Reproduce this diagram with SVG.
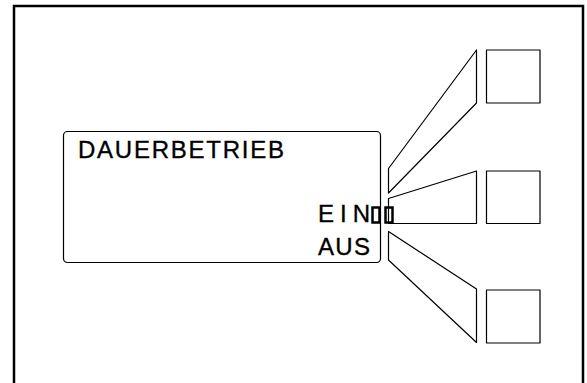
<svg xmlns="http://www.w3.org/2000/svg" width="587" height="383" viewBox="0 0 587 383">
<style>
.ln{fill:none;stroke:#000;stroke-width:1.2;stroke-linejoin:round}
.tx{font-family:"Liberation Sans","DejaVu Sans",sans-serif;font-size:24px;fill:#000;stroke:#000;stroke-width:0.35}
.tofu{fill:none;stroke:#000;stroke-width:2.5}
</style>
<rect x="0" y="0" width="587" height="383" fill="#fff"/>
<path d="M14,390 V6 H583 V390" fill="none" stroke="#000" stroke-width="2.5"/>
<g id="display">
<rect class="ln" x="63.5" y="131.5" width="317" height="131" rx="4"/>
<text class="tx" x="78" y="158" textLength="206" lengthAdjust="spacing">DAUERBETRIEB</text>
<text class="tx" x="318" y="222" textLength="52" lengthAdjust="spacing">EIN</text>
<rect class="tofu" x="372.5" y="207.5" width="7" height="15"/>
<rect class="tofu" x="385.5" y="207.5" width="7" height="15"/>
<text class="tx" x="318" y="254.5" textLength="52" lengthAdjust="spacing">AUS</text>
</g>
<g id="connectors">
<polygon class="ln" points="388.5,168.5 476.5,50 476.5,103 388.5,193"/>
<polygon class="ln" points="388.5,198.5 476.5,171 476.5,223.5 388.5,223.5"/>
<polygon class="ln" points="388.5,231.5 476.5,289 476.5,342.5 388.5,260"/>
</g>
<g id="button1"><rect class="ln" x="486.5" y="50" width="53.5" height="53"/></g>
<g id="button2"><rect class="ln" x="486.5" y="171" width="53.5" height="52.5"/></g>
<g id="button3"><rect class="ln" x="486.5" y="290" width="53.5" height="53"/></g>
</svg>
